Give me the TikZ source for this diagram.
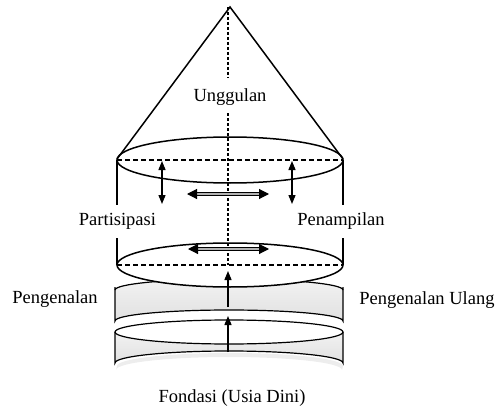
\documentclass[tikz,border=0pt]{standalone}
\usepackage{fontspec}
\setmainfont{Liberation Serif}
\usetikzlibrary{arrows.meta}
\tikzset{
  outline/.style={line width=1.5pt, black},
  diam/.style={line width=1.5pt, dash pattern=on 5pt off 3pt},
  axis/.style={line width=1.8pt, dash pattern=on 3pt off 2pt},
  vtip/.style={line width=1.3pt, {Triangle[length=9pt,width=7pt]}-{Triangle[length=9pt,width=7pt]}},
  uptip/.style={line width=1.3pt, -{Triangle[length=9pt,width=7pt]}},
  flow/.style={line width=1.1pt, double=gray!60, double distance=2.4pt,
    {Triangle[length=10pt,width=10pt]}-{Triangle[length=10pt,width=10pt]}},
  lbl/.style={inner sep=0pt, font=\fontsize{18.5pt}{20pt}\selectfont},
  gaplbl/.style={lbl, fill=white, inner xsep=2pt, minimum height=33pt},
  diskfill/.style={top color=gray!10, bottom color=gray!24},
  diskline/.style={line width=1.2pt, black},
}
\begin{document}
\begin{tikzpicture}[x=1pt,y=-1pt]
\useasboundingbox (0,0) rectangle (498,412);

% soft shadow under the stack
\fill[gray!20, opacity=0.7] (117,366) arc[start angle=180,end angle=360,x radius=113,y radius=13] -- (342,370) arc[start angle=0,end angle=-180,x radius=113,y radius=13] -- cycle;

% lower disk
\shade[diskfill] (115,332) arc[start angle=180,end angle=0,x radius=114,y radius=12]
  -- (343,363) arc[start angle=0,end angle=-180,x radius=114,y radius=12] -- cycle;
\draw[diskline] (115,332) arc[start angle=180,end angle=0,x radius=114,y radius=12];
\draw[diskline] (115,332) arc[start angle=180,end angle=360,x radius=114,y radius=12];
\draw[diskline] (115,332) -- (115,363) arc[start angle=180,end angle=360,x radius=114,y radius=12] -- (343,332);

% upper disk
\fill[gray!6] (115,290) arc[start angle=180,end angle=0,x radius=114,y radius=11]
  -- (343,290) arc[start angle=0,end angle=-180,x radius=114,y radius=11] -- cycle;
\shade[diskfill] (115,290) arc[start angle=180,end angle=360,x radius=114,y radius=11]
  -- (343,321) arc[start angle=0,end angle=-180,x radius=114,y radius=11] -- cycle;
\draw[diskline] (115,290) arc[start angle=180,end angle=360,x radius=114,y radius=11];
\draw[diskline] (115,287) -- (115,321) arc[start angle=180,end angle=360,x radius=114,y radius=11] -- (343,287);

% cylinder body
\fill[white] (117,160) rectangle (343,265);
\draw[outline, fill=white] (230,265) ellipse[x radius=113, y radius=22];
\draw[outline] (117,160) -- (117,265);
\draw[outline] (343,160) -- (343,265);

% cone
\coordinate (apex) at (230,7);
\coordinate (cl) at (117,159);
\coordinate (cr) at (343,159);
\draw[outline, line join=miter] (cl) -- (apex) -- (cr);
\draw[outline] (230,160) ellipse[x radius=113, y radius=23];

% diameters
\coordinate (tl) at (117,160);
\coordinate (tr) at (343,160);
\coordinate (bl) at (117,265);
\coordinate (br) at (343,265);
\draw[diam] (tl) -- (tr);
\draw[diam] (bl) -- (br);

% central axis
\node[lbl] (ung) at (230,97) {Unggulan};
\coordinate (axbot) at (228,265);
\draw[axis] (228,7) -- (228,78);
\draw[axis] (228,113) -- (axbot);

% vertical arrows in cylinder
\coordinate (la) at (162,161);
\coordinate (lb) at (162,204);
\coordinate (ra) at (292,161);
\coordinate (rb) at (292,204);
\draw[vtip] (la) -- (lb);
\draw[vtip] (ra) -- (rb);

% horizontal double arrows
\coordinate (h1a) at (187,194);
\coordinate (h1b) at (269,194);
\coordinate (h2a) at (188,249);
\coordinate (h2b) at (269,249);
\draw[flow] (h1a) -- (h1b);
\draw[flow] (h2a) -- (h2b);

% upward arrows through the disks
\coordinate (u1a) at (228,307);
\coordinate (u1b) at (228,271);
\coordinate (u2a) at (228,352);
\coordinate (u2b) at (228,316);
\draw[uptip] (u1a) -- (u1b);
\draw[uptip] (u2a) -- (u2b);

% labels
\node[gaplbl] (part) at (117.5,221) {Partisipasi};
\node[gaplbl] (pen) at (341,221) {Penampilan};
\node[lbl] (peng) at (55,299) {Pengenalan};
\node[lbl] (pengu) at (427,300) {Pengenalan Ulang};
\node[lbl] (fond) at (232,398) {Fondasi (Usia Dini)};
\end{tikzpicture}
\end{document}
